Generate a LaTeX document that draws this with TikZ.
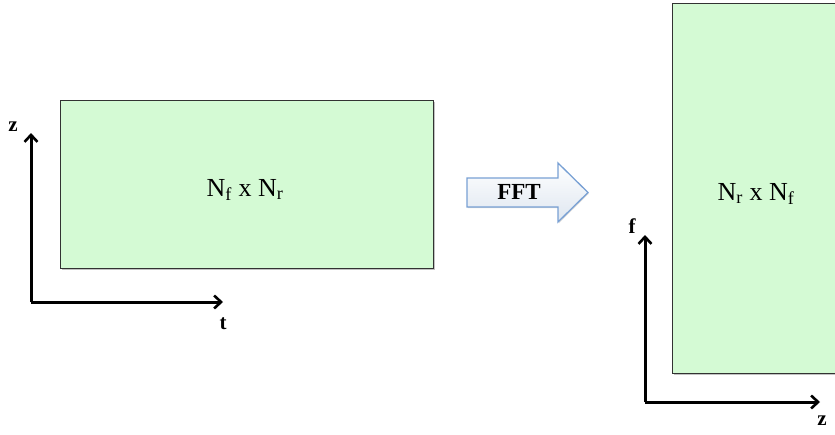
\documentclass[tikz,border=0pt]{standalone}
\usepackage{fontspec}
\setmainfont{Liberation Serif}
\usetikzlibrary{arrows.meta,shadows}
\definecolor{boxgreen}{RGB}{212,250,212}
\definecolor{boxedge}{RGB}{50,50,50}
\definecolor{arrowedge}{RGB}{120,160,212}
\definecolor{arrowlow}{RGB}{222,230,240}
\tikzset{
  matbox/.style={draw=boxedge,line width=0.9pt,fill=boxgreen,
    drop shadow={shadow xshift=1.2pt,shadow yshift=-1.5pt,fill=black!40,opacity=0.6}},
  axisline/.style={line width=3pt,-{Straight Barb[length=7pt,width=13pt,line width=2.6pt]}},
  axislabel/.style={font=\fontsize{21}{23}\selectfont\bfseries,inner sep=0pt},
  mattext/.style={font=\fontsize{26}{28}\selectfont,inner sep=0pt},
  fftarrow/.style={draw=arrowedge,line width=1.3pt,top color=white,bottom color=arrowlow,
    drop shadow={shadow xshift=0.8pt,shadow yshift=-1.2pt,fill=black!30,opacity=0.5}},
}
\begin{document}
\begin{tikzpicture}[x=1pt,y=1pt]
\useasboundingbox (0,0) rectangle (835,-434);
\clip (0,0) rectangle (835,-434);
% left matrix
\node[matbox,minimum width=373pt,minimum height=168pt,anchor=north west,inner sep=0pt] (left) at (60,-100) {};
\node[mattext,anchor=base] (lt) at (245,-196) {N\textsubscript{f} x N\textsubscript{r}};
% left axes
\coordinate (lo) at (31,-302);
\coordinate (lz) at (31,-133);
\coordinate (lx) at (223,-302);
\draw[axisline] (lo) -- (lz);
\draw[axisline] (lo) -- (lx);
\node[axislabel] (zl) at (13,-127) {z};
\node[axislabel] (tl) at (223,-324) {t};
% FFT arrow
\draw[fftarrow] (467,-178) -- (558,-178) -- (558,-163) -- (588,-192.5) -- (558,-222) -- (558,-207) -- (467,-207) -- cycle;
\node[axislabel,font=\fontsize{23}{25}\selectfont\bfseries] (fft) at (519,-192) {FFT};
% right matrix
\node[matbox,minimum width=190pt,minimum height=370pt,anchor=north west,inner sep=0pt] (right) at (672,-3) {};
\node[mattext,anchor=base] (rt) at (756,-200) {N\textsubscript{r} x N\textsubscript{f}};
% right axes
\coordinate (ro) at (645,-402);
\coordinate (rf) at (645,-235);
\coordinate (rx) at (820,-402);
\draw[axisline] (ro) -- (rf);
\draw[axisline] (ro) -- (rx);
\node[axislabel] (fl) at (632,-226) {f};
\node[axislabel] (zr) at (822,-421) {z};
\end{tikzpicture}
\end{document}
